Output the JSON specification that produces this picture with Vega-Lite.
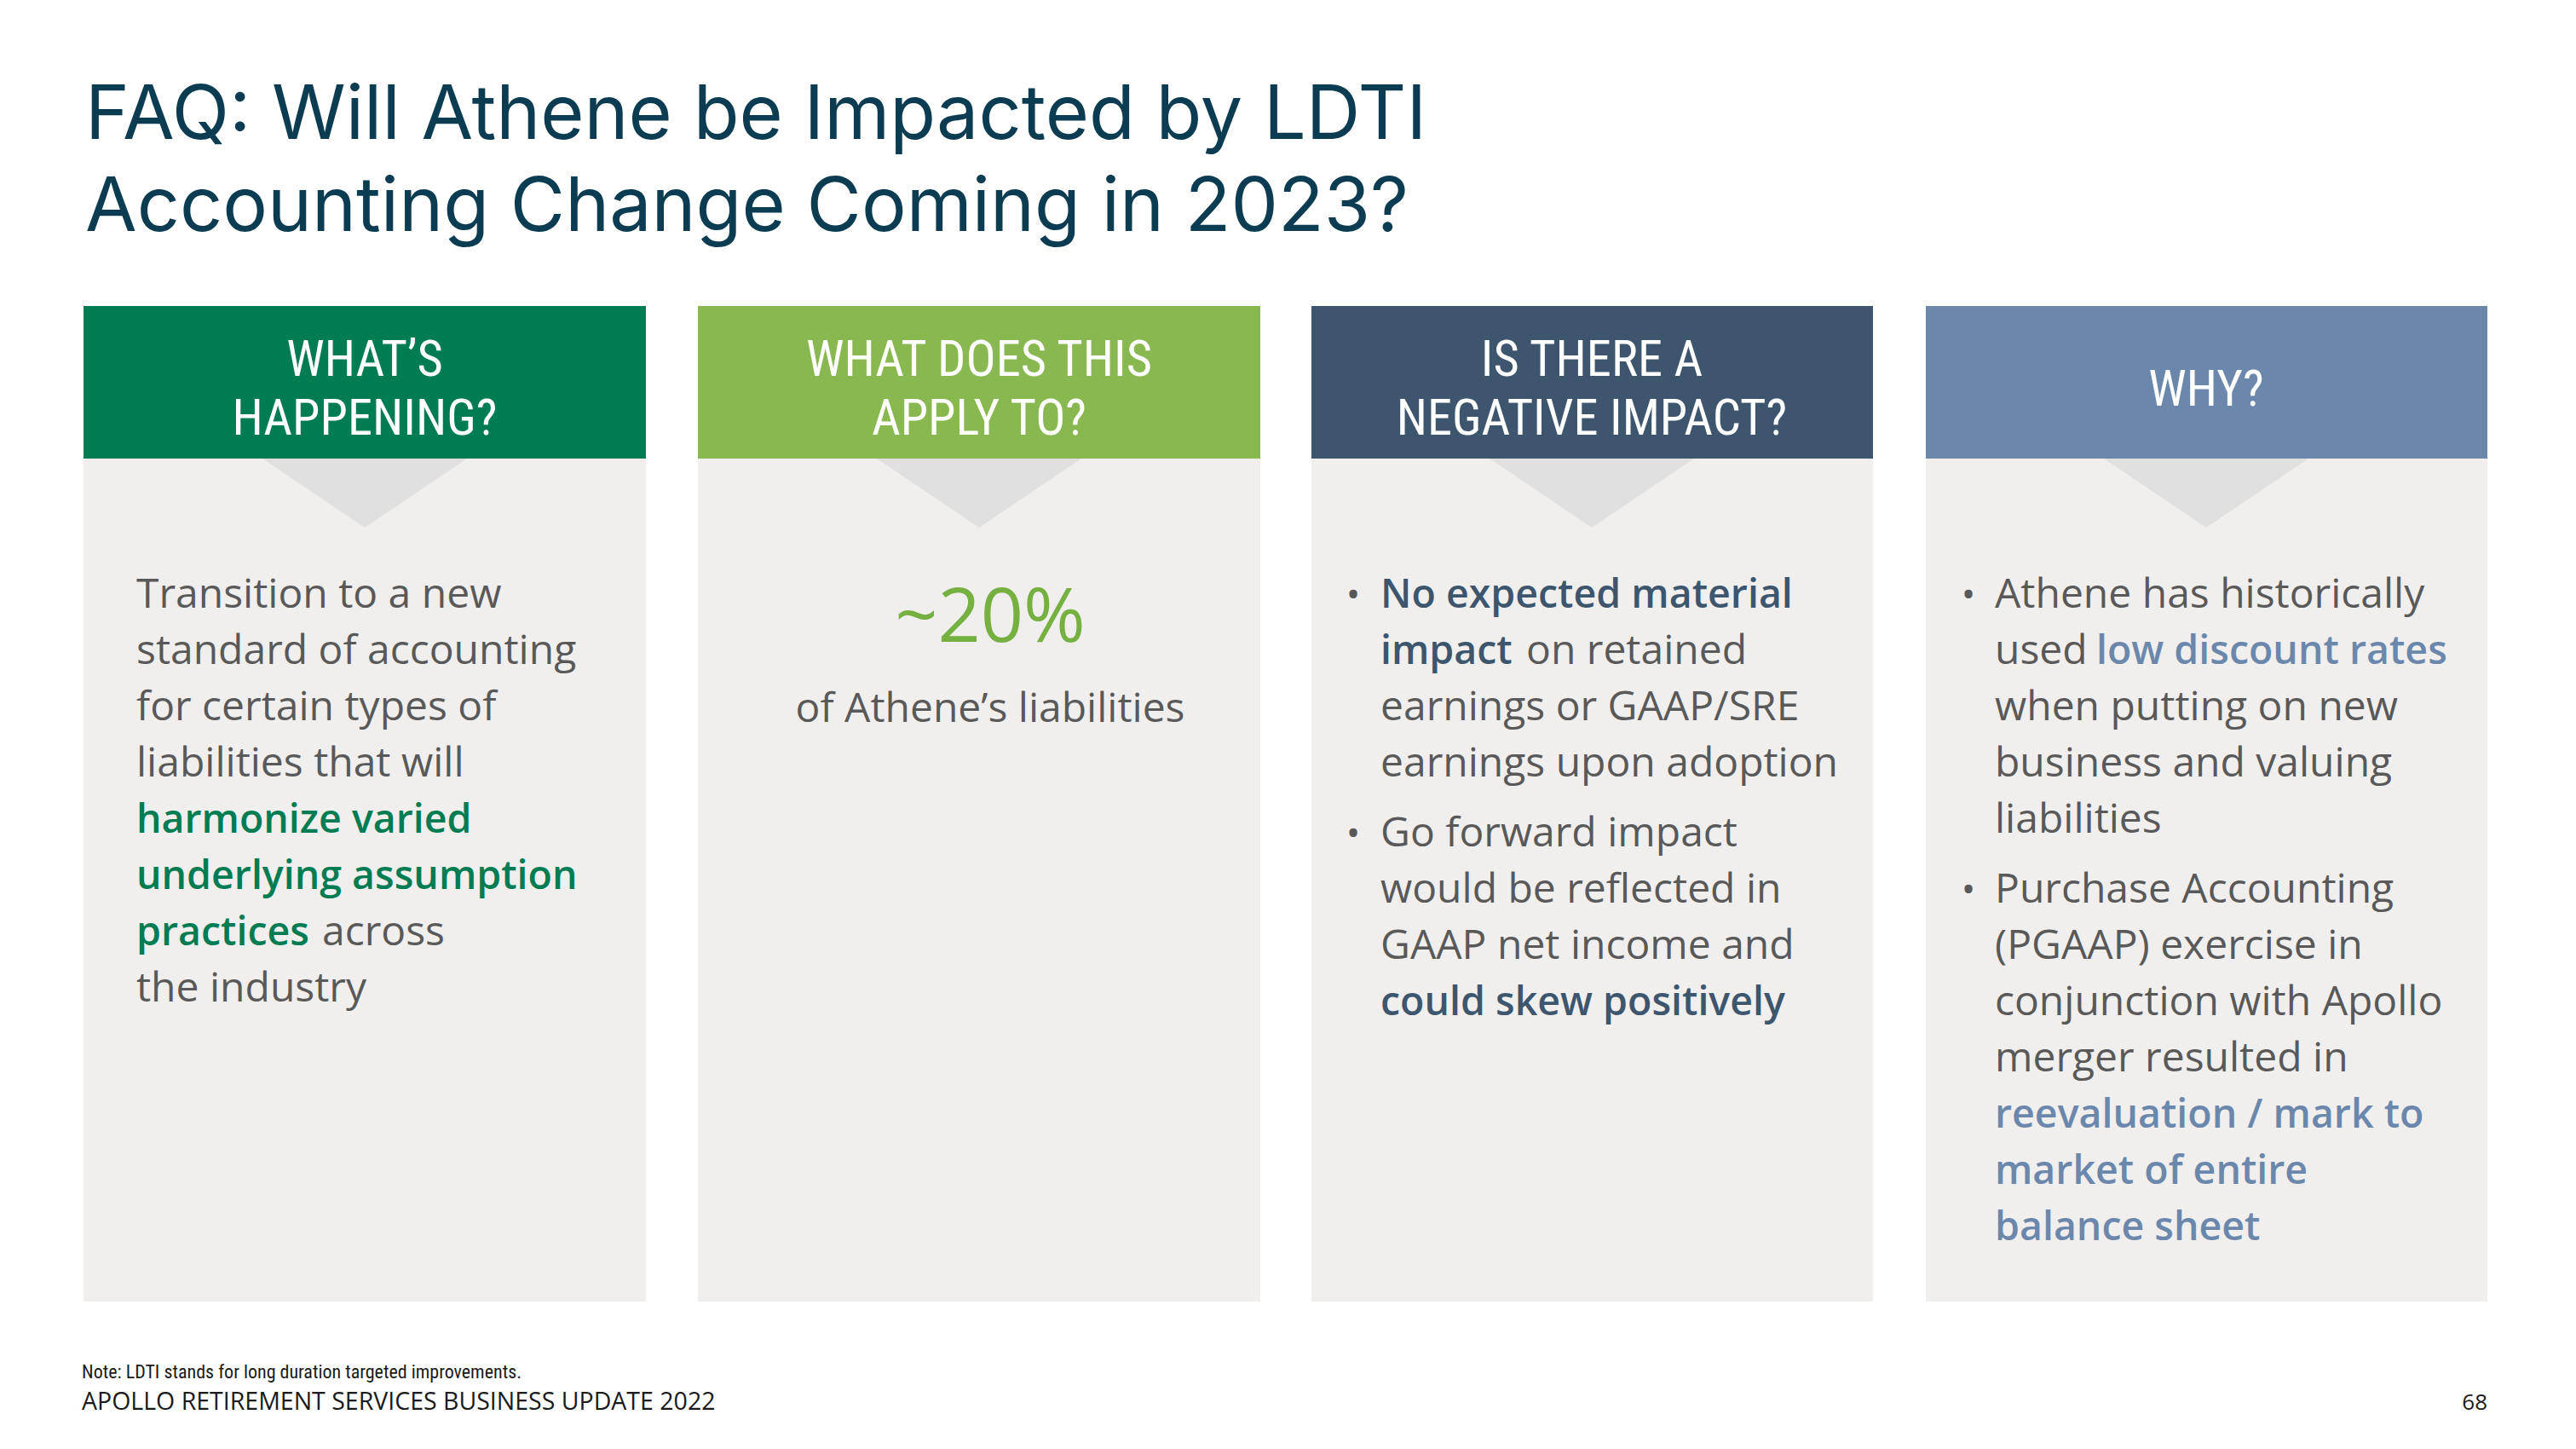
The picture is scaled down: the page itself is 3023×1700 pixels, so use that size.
{
  "$schema": "https://vega.github.io/schema/vega-lite/v6.json",
  "width": 3023,
  "height": 1700,
  "padding": 0,
  "autosize": {"type": "none"},
  "background": "#FFFFFF",
  "config": {"view": {"stroke": null}},
  "datasets": {
    "panels": [
      {"panel": "What's happening", "part": "header", "x": 98, "x2": 758, "y": 359, "y2": 538, "tone": "h1"},
      {"panel": "What does this apply to", "part": "header", "x": 819, "x2": 1479, "y": 359, "y2": 538, "tone": "h2"},
      {"panel": "Is there a negative impact", "part": "header", "x": 1539, "x2": 2198, "y": 359, "y2": 538, "tone": "h3"},
      {"panel": "Why", "part": "header", "x": 2260, "x2": 2919, "y": 359, "y2": 538, "tone": "h4"},
      {"panel": "What's happening", "part": "body", "x": 98, "x2": 758, "y": 538, "y2": 1527, "tone": "body"},
      {"panel": "What does this apply to", "part": "body", "x": 819, "x2": 1479, "y": 538, "y2": 1527, "tone": "body"},
      {"panel": "Is there a negative impact", "part": "body", "x": 1539, "x2": 2198, "y": 538, "y2": 1527, "tone": "body"},
      {"panel": "Why", "part": "body", "x": 2260, "x2": 2919, "y": 538, "y2": 1527, "tone": "body"}
    ],
    "pointers": [
      {"panel": "What's happening", "x": 428, "y": 538, "tone": "tri"},
      {"panel": "What does this apply to", "x": 1149, "y": 538, "tone": "tri"},
      {"panel": "Is there a negative impact", "x": 1868, "y": 538, "tone": "tri"},
      {"panel": "Why", "x": 2589, "y": 538, "tone": "tri"}
    ],
    "texts": [
      {"role": "title", "x": 100, "y": 163, "text": "FAQ: Will Athene be Impacted by LDTI\nAccounting Change Coming in 2023?", "tone": "title"},

      {"role": "head", "x": 428, "y": 441, "text": "WHAT’S", "tone": "white"},
      {"role": "head", "x": 428, "y": 510, "text": "HAPPENING?", "tone": "white"},
      {"role": "head", "x": 1149, "y": 441, "text": "WHAT DOES THIS", "tone": "white"},
      {"role": "head", "x": 1149, "y": 510, "text": "APPLY TO?", "tone": "white"},
      {"role": "head", "x": 1868, "y": 441, "text": "IS THERE A", "tone": "white"},
      {"role": "head", "x": 1868, "y": 510, "text": "NEGATIVE IMPACT?", "tone": "white"},
      {"role": "head", "x": 2589, "y": 476, "text": "WHY?", "tone": "white"},

      {"role": "body", "x": 160, "y": 713, "text": "Transition to a new", "tone": "gray"},
      {"role": "body", "x": 160, "y": 779, "text": "standard of accounting", "tone": "gray"},
      {"role": "body", "x": 160, "y": 845, "text": "for certain types of", "tone": "gray"},
      {"role": "body", "x": 160, "y": 911, "text": "liabilities that will", "tone": "gray"},
      {"role": "bold", "x": 160, "y": 977, "text": "harmonize varied", "tone": "green"},
      {"role": "bold", "x": 160, "y": 1043, "text": "underlying assumption", "tone": "green"},
      {"role": "bold", "x": 160, "y": 1109, "text": "practices", "tone": "green"},
      {"role": "body", "x": 378, "y": 1109, "text": "across", "tone": "gray"},
      {"role": "body", "x": 160, "y": 1175, "text": "the industry", "tone": "gray"},

      {"role": "big", "x": 1162, "y": 753, "text": "~20%", "tone": "lime"},
      {"role": "center", "x": 1162, "y": 847, "text": "of Athene’s liabilities", "tone": "gray"},

      {"role": "bullet", "x": 1588, "y": 713, "text": "•", "tone": "gray"},
      {"role": "bold", "x": 1620, "y": 713, "text": "No expected material", "tone": "navy"},
      {"role": "bold", "x": 1620, "y": 779, "text": "impact", "tone": "navy"},
      {"role": "body", "x": 1791, "y": 779, "text": "on retained", "tone": "gray"},
      {"role": "body", "x": 1620, "y": 845, "text": "earnings or GAAP/SRE", "tone": "gray"},
      {"role": "body", "x": 1620, "y": 911, "text": "earnings upon adoption", "tone": "gray"},
      {"role": "bullet", "x": 1588, "y": 993, "text": "•", "tone": "gray"},
      {"role": "body", "x": 1620, "y": 993, "text": "Go forward impact", "tone": "gray"},
      {"role": "body", "x": 1620, "y": 1059, "text": "would be reflected in", "tone": "gray"},
      {"role": "body", "x": 1620, "y": 1125, "text": "GAAP net income and", "tone": "gray"},
      {"role": "bold", "x": 1620, "y": 1191, "text": "could skew positively", "tone": "navy"},

      {"role": "bullet", "x": 2310, "y": 713, "text": "•", "tone": "gray"},
      {"role": "body", "x": 2341, "y": 713, "text": "Athene has historically", "tone": "gray"},
      {"role": "body", "x": 2341, "y": 779, "text": "used", "tone": "gray"},
      {"role": "bold", "x": 2460, "y": 779, "text": "low discount rates", "tone": "slate"},
      {"role": "body", "x": 2341, "y": 845, "text": "when putting on new", "tone": "gray"},
      {"role": "body", "x": 2341, "y": 911, "text": "business and valuing", "tone": "gray"},
      {"role": "body", "x": 2341, "y": 977, "text": "liabilities", "tone": "gray"},
      {"role": "bullet", "x": 2310, "y": 1059, "text": "•", "tone": "gray"},
      {"role": "body", "x": 2341, "y": 1059, "text": "Purchase Accounting", "tone": "gray"},
      {"role": "body", "x": 2341, "y": 1125, "text": "(PGAAP) exercise in", "tone": "gray"},
      {"role": "body", "x": 2341, "y": 1191, "text": "conjunction with Apollo", "tone": "gray"},
      {"role": "body", "x": 2341, "y": 1257, "text": "merger resulted in", "tone": "gray"},
      {"role": "bold", "x": 2341, "y": 1323, "text": "reevaluation / mark to", "tone": "slate"},
      {"role": "bold", "x": 2341, "y": 1389, "text": "market of entire", "tone": "slate"},
      {"role": "bold", "x": 2341, "y": 1455, "text": "balance sheet", "tone": "slate"},

      {"role": "note", "x": 96, "y": 1617, "text": "Note: LDTI stands for long duration targeted improvements.", "tone": "ink"},
      {"role": "foot", "x": 96, "y": 1654, "text": "APOLLO RETIREMENT SERVICES BUSINESS UPDATE 2022", "tone": "ink"},
      {"role": "page", "x": 2919, "y": 1654, "text": "68", "tone": "ink"}
    ]
  },
  "encoding": {
    "x": {"field": "x", "type": "quantitative", "scale": {"domain": [0, 3023], "nice": false, "zero": false}, "axis": null},
    "y": {"field": "y", "type": "quantitative", "scale": {"domain": [0, 1700], "nice": false, "zero": false, "reverse": true}, "axis": null},
    "color": {
      "field": "tone",
      "type": "nominal",
      "legend": null,
      "scale": {
        "domain": ["h1", "h2", "h3", "h4", "body", "tri", "title", "gray", "green", "navy", "slate", "lime", "white", "ink"],
        "range": ["#007C52", "#88B84F", "#3D566E", "#6C87AC", "#F0EFEE", "#E0E0E0", "#0B3C51", "#595959", "#007C52", "#3D566E", "#6C87AC", "#76B041", "#FFFFFF", "#1A1A1A"]
      }
    }
  },
  "layer": [
    {
      "data": {"name": "panels"},
      "mark": {"type": "rect", "strokeWidth": 0},
      "encoding": {
        "x2": {"field": "x2"},
        "y2": {"field": "y2"}
      }
    },
    {
      "data": {"name": "pointers"},
      "mark": {"type": "point", "shape": "M-1,0L1,0L0,0.675Z", "size": 57600, "filled": true, "opacity": 1, "strokeWidth": 0}
    },
    {
      "data": {"name": "texts"},
      "transform": [{"filter": "datum.role === 'title'"}],
      "mark": {"type": "text", "font": "Inter", "fontSize": 88, "lineBreak": "\n", "lineHeight": 108, "align": "left", "baseline": "alphabetic"},
      "encoding": {"text": {"field": "text"}}
    },
    {
      "data": {"name": "texts"},
      "transform": [{"filter": "datum.role === 'head'"}],
      "mark": {"type": "text", "font": "Roboto Condensed, Liberation Sans Narrow, DejaVu Sans Condensed, sans-serif", "fontSize": 58.5, "align": "center", "baseline": "alphabetic"},
      "encoding": {"text": {"field": "text"}}
    },
    {
      "data": {"name": "texts"},
      "transform": [{"filter": "datum.role === 'body'"}],
      "mark": {"type": "text", "font": "Open Sans", "fontSize": 48, "align": "left", "baseline": "alphabetic"},
      "encoding": {"text": {"field": "text"}}
    },
    {
      "data": {"name": "texts"},
      "transform": [{"filter": "datum.role === 'bold'"}],
      "mark": {"type": "text", "font": "Open Sans", "fontSize": 46.5, "fontWeight": 600, "align": "left", "baseline": "alphabetic"},
      "encoding": {"text": {"field": "text"}}
    },
    {
      "data": {"name": "texts"},
      "transform": [{"filter": "datum.role === 'big'"}],
      "mark": {"type": "text", "font": "Open Sans", "fontSize": 88, "fontWeight": 500, "align": "center", "baseline": "alphabetic"},
      "encoding": {"text": {"field": "text"}}
    },
    {
      "data": {"name": "texts"},
      "transform": [{"filter": "datum.role === 'center'"}],
      "mark": {"type": "text", "font": "Open Sans", "fontSize": 48, "align": "center", "baseline": "alphabetic"},
      "encoding": {"text": {"field": "text"}}
    },
    {
      "data": {"name": "texts"},
      "transform": [{"filter": "datum.role === 'bullet'"}],
      "mark": {"type": "text", "font": "Open Sans", "fontSize": 44, "align": "center", "baseline": "alphabetic"},
      "encoding": {"text": {"field": "text"}}
    },
    {
      "data": {"name": "texts"},
      "transform": [{"filter": "datum.role === 'note'"}],
      "mark": {"type": "text", "font": "Roboto Condensed, Liberation Sans Narrow, DejaVu Sans Condensed, sans-serif", "fontSize": 22, "align": "left", "baseline": "alphabetic"},
      "encoding": {"text": {"field": "text"}}
    },
    {
      "data": {"name": "texts"},
      "transform": [{"filter": "datum.role === 'foot'"}],
      "mark": {"type": "text", "font": "Open Sans", "fontSize": 28.5, "align": "left", "baseline": "alphabetic"},
      "encoding": {"text": {"field": "text"}}
    },
    {
      "data": {"name": "texts"},
      "transform": [{"filter": "datum.role === 'page'"}],
      "mark": {"type": "text", "font": "Open Sans", "fontSize": 26, "align": "right", "baseline": "alphabetic"},
      "encoding": {"text": {"field": "text"}}
    }
  ]
}
